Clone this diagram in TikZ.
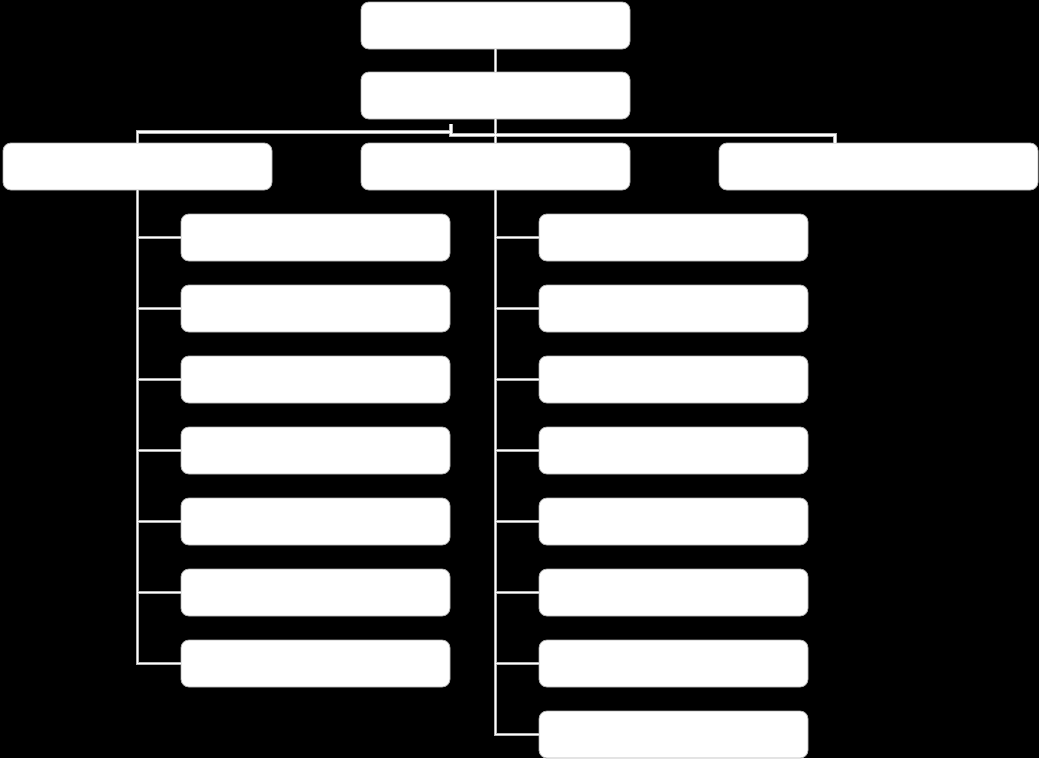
\documentclass[tikz,border=0pt]{standalone}
\begin{document}
\begin{tikzpicture}[
  x=1pt, y=-1pt,
  box/.style={shape=rectangle,draw=gray!60,fill=white,line width=0.8pt,rounded corners=8pt,
    minimum width=269pt,minimum height=47pt,inner sep=0pt},
  widebox/.style={box,minimum width=319pt}
]
\fill[black] (0,0) rectangle (1039,758);
\useasboundingbox (0,0) rectangle (1039,758);
% boxes
\node [box] (top) at (495.5,25.5) {};
\node [box] (mid) at (495.5,95.5) {};
\node [box] (leftbr) at (137.5,166.5) {};
\node [box] (midbr) at (495.5,166.5) {};
\node [widebox] (rightbr) at (878.5,166.5) {};
\foreach \i in {1,...,7} \node [box] (lc\i) at (315.5,{166.5+71*\i}) {};
\foreach \i in {1,...,8} \node [box] (rc\i) at (673.5,{166.5+71*\i}) {};
% junction points
\coordinate (kink) at (451,124);
\coordinate (jl) at (451,132);
\coordinate (jr) at (451,135);
\coordinate (drop) at (835,143);
% connectors, gray edge first then white core
\foreach \c/\w in {gray!60/3.2pt, white/1.8pt} {
  \draw[draw=\c,line width=\w] (top) -- (mid);
  \draw[draw=\c,line width=\w] (mid) -- (midbr);
  \draw[draw=\c,line width=\w] (kink) -- (jl) -| (leftbr.north);
  \draw[draw=\c,line width=\w] (kink) -- (jr) -| (drop);
  \foreach \i in {1,...,7} \draw[draw=\c,line width=\w] (leftbr.south) |- (lc\i.west);
  \foreach \i in {1,...,8} \draw[draw=\c,line width=\w] (midbr.south) |- (rc\i.west);
}
\end{tikzpicture}
\end{document}
